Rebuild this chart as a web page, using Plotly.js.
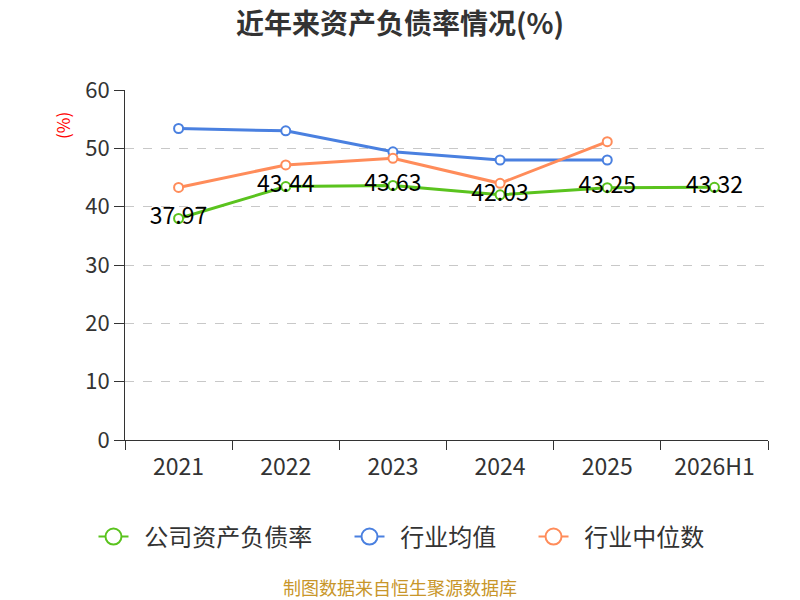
<!DOCTYPE html>
<html>
<head>
<meta charset="utf-8">
<script src="https://cdn.plot.ly/plotly-3.0.1.min.js"></script>
<style>
  html, body { margin: 0; padding: 0; background: #fff; }
  #chart { width: 800px; height: 600px; }
</style>
</head>
<body>
<div id="chart"></div>
<script>
// Chart values.
const years = ['2021', '2022', '2023', '2024', '2025', '2026H1'];
const companyRatio = [37.97, 43.44, 43.63, 42.03, 43.25, 43.32];
const industryMean = [53.4, 53.0, 49.4, 48.0, 48.0, null];
const industryMedian = [43.3, 47.15, 48.3, 44.0, 51.15, null];

const seriesNames = ['公司资产负债率', '行业均值', '行业中位数'];
const seriesColors = ['#5ac31e', '#4a80e0', '#ff8c5a'];

const NBSP = '\u00a0';

function makeTrace(y, i, withLabels) {
  const trace = {
    x: years,
    y: y,
    name: seriesNames[i],
    type: 'scatter',
    mode: withLabels ? 'lines+markers+text' : 'lines+markers',
    line: { color: seriesColors[i], width: 3 },
    marker: {
      symbol: 'circle',
      size: 9,
      color: '#ffffff',
      line: { color: seriesColors[i], width: 2 }
    },
    cliponaxis: false,
    showlegend: false,
    hoverinfo: 'none'
  };
  if (withLabels) {
    trace.text = y.map(v => v.toFixed(2));
    trace.textposition = 'middle center';
    trace.textfont = { size: 23, color: '#000000' };
  }
  return trace;
}

// Legend-only entries with bigger circles, like the reference legend.
function legendTrace(i, last) {
  // pad names a bit so the legend items spread out like the reference
  const label = NBSP.repeat(2) + seriesNames[i] + (last ? '' : NBSP.repeat(6));
  return {
    x: [years[0]],
    y: [null],
    name: label,
    type: 'scatter',
    mode: 'lines+markers',
    line: { color: seriesColors[i], width: 2 },
    marker: {
      symbol: 'circle',
      size: 20,
      color: '#ffffff',
      line: { color: seriesColors[i], width: 2 }
    },
    hoverinfo: 'none'
  };
}

const data = [
  makeTrace(companyRatio, 0, true),
  makeTrace(industryMean, 1, false),
  makeTrace(industryMedian, 2, false),
  legendTrace(0, false),
  legendTrace(1, false),
  legendTrace(2, true)
];

const layout = {
  width: 800,
  height: 600,
  margin: { l: 125, r: 32, t: 90, b: 160 },
  paper_bgcolor: '#ffffff',
  plot_bgcolor: '#ffffff',
  font: { family: 'Noto Sans CJK SC, sans-serif', color: '#333333' },
  title: {
    text: '<b>近年来资产负债率情况(%)</b>',
    font: { size: 28, color: '#333333' },
    x: 0.5,
    xanchor: 'center',
    y: 0.96,
    yanchor: 'middle'
  },
  xaxis: {
    type: 'category',
    tickson: 'boundaries',
    ticks: 'outside',
    ticklen: 9,
    tickcolor: '#333333',
    tickwidth: 1,
    showline: true,
    linecolor: '#333333',
    linewidth: 1,
    showgrid: false,
    tickfont: { size: 23, color: '#333333' },
    ticklabelstandoff: 6,
    range: [-0.5, 5.5],
    fixedrange: true
  },
  yaxis: {
    range: [0, 60],
    dtick: 10,
    ticks: 'outside',
    ticklen: 10,
    tickcolor: '#333333',
    showline: true,
    linecolor: '#333333',
    linewidth: 1,
    gridcolor: '#c8c8c8',
    griddash: 'dash',
    gridwidth: 1,
    zeroline: false,
    tickfont: { size: 22, color: '#333333' },
    fixedrange: true
  },
  showlegend: true,
  legend: {
    orientation: 'h',
    x: 0.43,
    xanchor: 'center',
    y: -0.277,
    yanchor: 'middle',
    font: { size: 24, color: '#333333' }
  },
  annotations: [
    {
      text: '(%)',
      xref: 'paper',
      yref: 'paper',
      x: -0.098,
      xanchor: 'center',
      y: 0.9,
      yanchor: 'middle',
      textangle: -90,
      showarrow: false,
      font: { size: 17, color: '#ff0000' }
    },
    {
      text: '制图数据来自恒生聚源数据库',
      xref: 'paper',
      yref: 'paper',
      x: 0.428,
      xanchor: 'center',
      y: -0.42,
      yanchor: 'middle',
      showarrow: false,
      font: { size: 18, color: '#c8962a' }
    }
  ]
};

Plotly.newPlot('chart', data, layout, { displayModeBar: false, staticPlot: true });
</script>
</body>
</html>
